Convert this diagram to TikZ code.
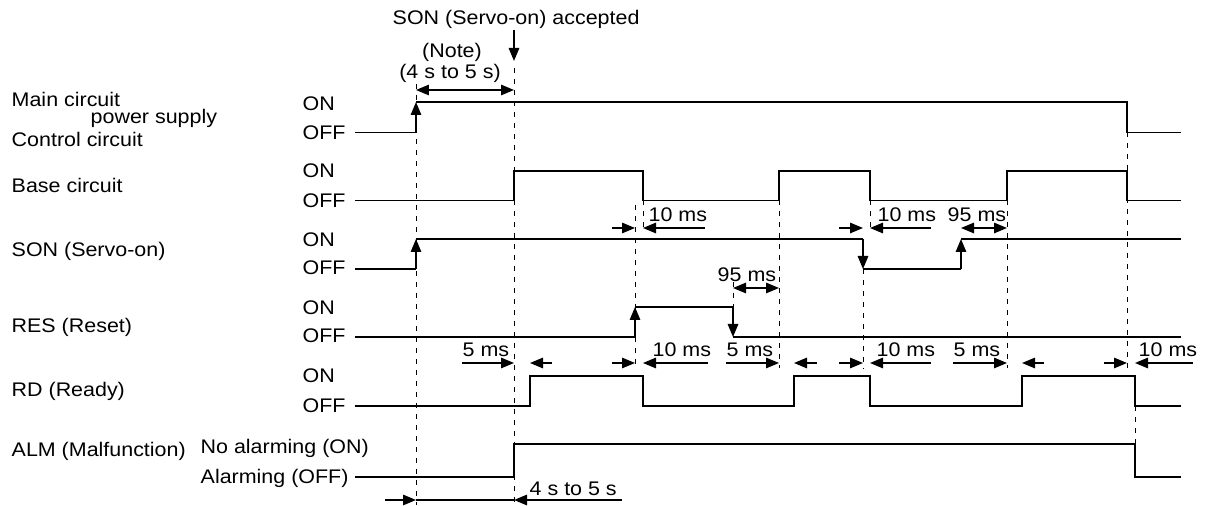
\documentclass[tikz,border=0pt]{standalone}
\usepackage{fontspec}
\setmainfont{Liberation Sans}[FakeStretch=1.09]
\usetikzlibrary{arrows.meta}

\begin{document}
\begin{tikzpicture}[x=0.02cm, y=-0.02cm, >={Triangle[length=2.6mm,width=2.1mm]}, line width=0.8pt,
  lbl/.style={anchor=base west, inner sep=0pt, font=\fontsize{11.2}{13}\selectfont},
  guia/.style={line width=0.5pt, dash pattern=on 1mm off 1.2mm}]
  \useasboundingbox (0,0) rectangle (1205,506);
  % nombres de las señales
  \node[lbl] (mc) at (11,107) {Main circuit};
  \node[lbl] (ps) at (90,124) {power supply};
  \node[lbl] (cc) at (11,147) {Control circuit};
  \node[lbl] (bc) at (11,193) {Base circuit};
  \node[lbl] (son) at (11,257) {SON (Servo-on)};
  \node[lbl] (res) at (11,333) {RES (Reset)};
  \node[lbl] (rd) at (11,397) {RD (Ready)};
  \node[lbl] (alm) at (11,457) {ALM (Malfunction)};
  \node[lbl] (almOn) at (200,454) {No alarming (ON)};
  \node[lbl] (almOff) at (200,484) {Alarming (OFF)};
  % niveles ON / OFF
  \node[lbl] (onPw) at (302,111) {ON};
  \node[lbl] (offPw) at (302,140) {OFF};
  \node[lbl] (onBs) at (302,178) {ON};
  \node[lbl] (offBs) at (302,208) {OFF};
  \node[lbl] (onSn) at (302,247) {ON};
  \node[lbl] (offSn) at (302,275) {OFF};
  \node[lbl] (onRs) at (302,315) {ON};
  \node[lbl] (offRs) at (302,343) {OFF};
  \node[lbl] (onRd) at (302,383) {ON};
  \node[lbl] (offRd) at (302,413) {OFF};
  % encabezado
  \node[lbl] (acc) at (392,25) {SON (Servo-on) accepted};
  \node[lbl, anchor=base] (note) at (452,58) {(Note)};
  \node[lbl, anchor=base] (noteT) at (450,79) {(4 s to 5 s)};
  \coordinate (accTip) at (514,61);
  \draw[->] (acc.south -| accTip) -- (accTip);
  \draw[<->] (416,90) -- (514,90);
  % lineas guia
  \draw[guia] (416,84) -- (416,505);
  \draw[guia] (514,68) -- (514,505);
  \draw[guia] (635,205) -- (635,368);
  \draw[guia] (643,200) -- (643,232);
  \draw[guia] (733,282) -- (733,307);
  \draw[guia] (779,200) -- (779,368);
  \draw[guia] (863,269) -- (863,368);
  \draw[guia] (870,200) -- (870,232);
  \draw[guia] (1007,200) -- (1007,368);
  \draw[guia] (1127,132) -- (1127,368);
  \draw[guia] (1135,406) -- (1135,444);
  % alimentacion
  \draw (355,132.7) -- (416,132.7);
  \draw[->] (416,132.7) -- (416,102);
  \draw (416,102) -- (1127,102) -- (1127,132.7) -- (1181,132.7);
  % circuito base
  \draw (355,200.7) -- (514,200.7) -- (514,171) -- (643,171) -- (643,200.7) -- (779,200.7)
    -- (779,171) -- (870,171) -- (870,200.7) -- (1007,200.7) -- (1007,171) -- (1127,171)
    -- (1127,200.7) -- (1181,200.7);
  % SON
  \draw (355,269) -- (416,269);
  \draw[->] (416,269) -- (416,239);
  \draw (416,239) -- (863,239);
  \draw[->] (863,239) -- (863,269);
  \draw (863,269) -- (961,269);
  \draw[->] (961,269) -- (961,239);
  \draw (961,239) -- (1181,239);
  % RES
  \draw (355,337) -- (635,337);
  \draw[->] (635,337) -- (635,307);
  \draw (635,307) -- (733,307);
  \draw[->] (733,307) -- (733,337);
  \draw (733,337) -- (1181,337);
  % RD
  \draw (355,406) -- (530,406) -- (530,376) -- (643,376) -- (643,406) -- (794,406)
    -- (794,376) -- (870,376) -- (870,406) -- (1022,406) -- (1022,376) -- (1135,376)
    -- (1135,406) -- (1181,406);
  % ALM
  \draw (355,477) -- (514,477) -- (514,444) -- (1135,444) -- (1135,477) -- (1181,477);
  % cotas
  \node[lbl] (d10a) at (648,222) {10 ms};
  \draw[->] (612,228) -- (635,228);
  \draw[->] (705,228) -- (643,228);
  \node[lbl] (d95a) at (717,282) {95 ms};
  \draw[<->] (733,288) -- (779,288);
  \node[lbl] (d10b) at (877,222) {10 ms};
  \draw[->] (839,228) -- (863,228);
  \draw[->] (931,228) -- (870,228);
  \node[lbl] (d95b) at (947,222) {95 ms};
  \draw[<->] (961,228) -- (1007,228);
  \node[lbl] (r5a) at (462,357) {5 ms};
  \draw[->] (462,363) -- (514,363);
  \draw[->] (552,363) -- (530,363);
  \node[lbl] (r10a) at (652,357) {10 ms};
  \draw[->] (612,363) -- (635,363);
  \draw[->] (708,363) -- (643,363);
  \node[lbl] (r5b) at (726,357) {5 ms};
  \draw[->] (726,363) -- (779,363);
  \draw[->] (817,363) -- (794,363);
  \node[lbl] (r10b) at (876,357) {10 ms};
  \draw[->] (839,363) -- (863,363);
  \draw[->] (931,363) -- (870,363);
  \node[lbl] (r5c) at (953,357) {5 ms};
  \draw[->] (953,363) -- (1007,363);
  \draw[->] (1044,363) -- (1022,363);
  \node[lbl] (r10c) at (1138,357) {10 ms};
  \draw[->] (1104,363) -- (1127,363);
  \draw[->] (1193,363) -- (1135,363);
  \node[lbl] (d45) at (529,496) {4 s to 5 s};
  \draw[->] (385,500) -- (416,500);
  \draw (416,500) -- (514,500);
  \draw[->] (622,500) -- (514,500);
\end{tikzpicture}
\end{document}
